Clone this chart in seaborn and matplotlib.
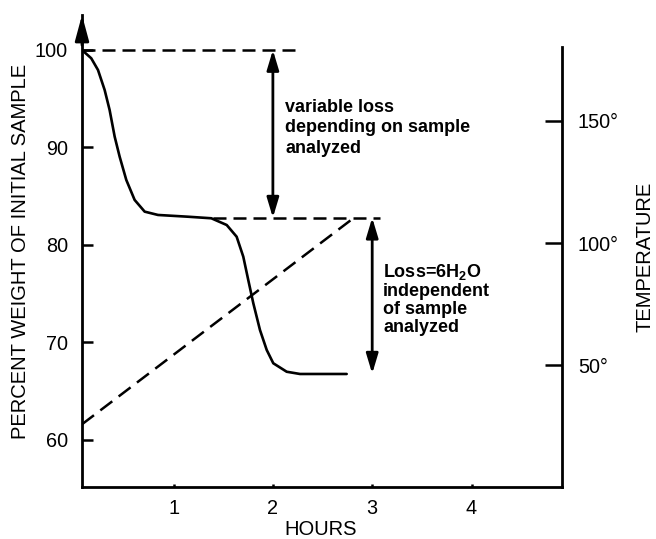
import matplotlib
matplotlib.use("Agg")
import matplotlib.pyplot as plt
import pandas as pd
import seaborn as sns

# Weight trace of the sample (percent of initial weight) against time
hours = [0.078, 0.171, 0.239, 0.306, 0.356, 0.407, 0.457, 0.524, 0.608,
         0.709, 0.843, 1.145, 1.380, 1.535, 1.635, 1.702, 1.752, 1.803,
         1.870, 1.938, 2.004, 2.139, 2.273, 2.743]
weight_pct = [100.0, 99.15, 97.95, 95.90, 93.85, 91.11, 89.06, 86.67, 84.62,
              83.42, 83.08, 82.90, 82.74, 82.05, 80.85, 78.80, 76.41, 74.02,
              71.28, 69.23, 67.87, 67.00, 66.77, 66.77]

# Furnace temperature ramp (degrees)
ramp_hours = [0.078, 2.806]
ramp_temp = [26, 110]

# Weight plateaus bracketing the two losses
initial_level = 100.0
hydrate_level = 82.8
final_level = 66.8

weight_ticks = [60, 70, 80, 90, 100]
hour_ticks = [1, 2, 3, 4]
temp_ticks = [50, 100, 150]
temp_tick_labels = ["50°", "100°", "150°"]

variable_note = "variable loss\ndepending on sample\nanalyzed"
water_note = "Loss=6H$_2$O\nindependent\nof sample\nanalyzed"

sns.set_theme(style="white")
plt.rcParams["font.family"] = ["Liberation Sans", "DejaVu Sans"]
plt.rcParams["mathtext.fontset"] = "custom"
plt.rcParams["mathtext.rm"] = "Liberation Sans:bold"
plt.rcParams["mathtext.it"] = "Liberation Sans:bold"
plt.rcParams["mathtext.bf"] = "Liberation Sans:bold"

ink = "black"
x_lo, x_hi = 0.078, 4.911
w_lo, w_hi = 55.18, 103.59
t_lo, t_hi = 0.4, 193.1

fig = plt.figure(figsize=(6.56, 5.39), dpi=100)
fig.patch.set_facecolor("white")
ax = fig.add_axes([0.125, 0.0965, 0.7317, 0.8757])
ax2 = ax.twinx()

trace = pd.DataFrame({"hours": hours, "weight": weight_pct})
ramp = pd.DataFrame({"hours": ramp_hours, "temp": ramp_temp})

sns.lineplot(data=trace, x="hours", y="weight", ax=ax, color=ink,
             linewidth=1.9, sort=False, estimator=None)
sns.lineplot(data=ramp, x="hours", y="temp", ax=ax2, color=ink,
             linewidth=1.8, sort=False, estimator=None,
             linestyle=(0, (6.0, 3.2)))

ax.set_xlim(x_lo, x_hi)
ax.set_ylim(w_lo, w_hi)
ax2.set_ylim(t_lo, t_hi)
ax.patch.set_alpha(0)

# Dashed guides at the plateau levels
ax.hlines(initial_level, x_lo, 2.222, colors=ink, linewidth=1.8,
          linestyles=[(0, (5.2, 2.8))])
ax.hlines(hydrate_level, 1.397, 3.078, colors=ink, linewidth=1.8,
          linestyles=[(0, (5.2, 2.8))])

# Double-headed arrows spanning each loss
arrow_style = dict(arrowstyle="<|-|>,head_length=1.0,head_width=0.3",
                   lw=2.0, color=ink, shrinkA=0, shrinkB=0,
                   mutation_scale=12)
ax.annotate("", xy=(2.0, initial_level), xytext=(2.0, hydrate_level),
            arrowprops=arrow_style)
ax.annotate("", xy=(3.0, hydrate_level), xytext=(3.0, final_level),
            arrowprops=arrow_style)

ax.text(2.122, 92.0, variable_note, fontsize=13, fontweight="bold",
        ha="left", va="center", linespacing=1.3, color=ink)
ax.text(3.109, 74.46, water_note, fontsize=13, fontweight="bold",
        ha="left", va="center", linespacing=1.08, color=ink)

# Spines
for s in ["top", "right"]:
    ax.spines[s].set_visible(False)
for s in ["left", "bottom"]:
    ax.spines[s].set_color(ink)
    ax.spines[s].set_linewidth(2.0)
for s in ["top", "left", "bottom"]:
    ax2.spines[s].set_visible(False)
ax2.spines["right"].set_color(ink)
ax2.spines["right"].set_linewidth(2.0)
ax2.spines["right"].set_bounds(t_lo, 180)

# Arrowhead on top of the weight axis
ax.annotate("", xy=(x_lo, w_hi), xytext=(x_lo, 100.5),
            arrowprops=dict(arrowstyle="-|>,head_length=1.3,head_width=0.35",
                            lw=2.0, color=ink, shrinkA=0, shrinkB=0,
                            mutation_scale=12),
            annotation_clip=False)

# Ticks
ax.set_xticks(hour_ticks)
ax.set_xticklabels([str(h) for h in hour_ticks])
ax.set_yticks(weight_ticks)
ax.set_yticklabels([str(w) for w in weight_ticks])
ax2.set_yticks(temp_ticks)
ax2.set_yticklabels(temp_tick_labels)

ax.tick_params(axis="y", left=True, direction="in", length=8, width=1.8,
               pad=10, labelsize=14.3, colors=ink)
ax.tick_params(axis="x", bottom=True, direction="in", length=2.5, width=1.8,
               pad=9, labelsize=14.3, colors=ink)
ax2.tick_params(axis="y", right=True, direction="in", length=12, width=1.8,
                pad=11.5, labelsize=14.3, colors=ink)

# Axis titles
ax.set_xlabel("HOURS", fontsize=14.5, color=ink)
ax.xaxis.label.set_va("center")
ax.xaxis.set_label_coords(0.498, -0.091)
ax.set_ylabel("PERCENT WEIGHT OF INITIAL SAMPLE", fontsize=14.5, color=ink)
ax.yaxis.label.set_va("center")
ax.yaxis.set_label_coords(-0.129, 0.499)
ax2.set_ylabel("TEMPERATURE", fontsize=14.5, color=ink)
ax2.yaxis.label.set_va("center")
ax2.yaxis.set_label_coords(1.173, 0.487)

ax.grid(False)
ax2.grid(False)

fig.savefig("out.png", dpi=100, facecolor="white")
